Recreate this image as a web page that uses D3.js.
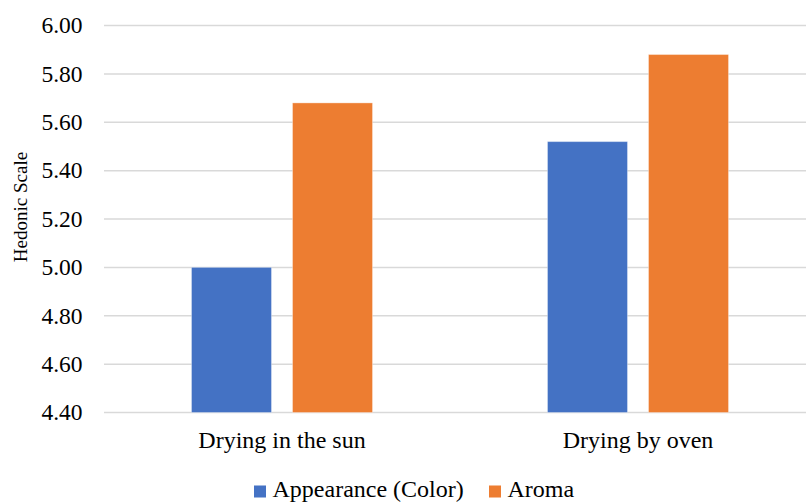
<!DOCTYPE html>
<html>
<head>
<meta charset="utf-8">
<script src="https://cdn.jsdelivr.net/npm/d3@7"></script>
<style>
  html, body { margin: 0; padding: 0; background: #fff; }
  text { font-family: "Liberation Serif", "Times New Roman", Times, serif; }
</style>
</head>
<body>
<div id="chart"></div>
<script>
// data
const categories = ["Drying in the sun", "Drying by oven"];
const seriesNames = ["Appearance (Color)", "Aroma"];
const appearance = [5.00, 5.52];
const aroma = [5.68, 5.88];
const yTicks = [4.40, 4.60, 4.80, 5.00, 5.20, 5.40, 5.60, 5.80, 6.00];
const colors = ["#4472c4", "#ed7d31"];

const width = 806;
const height = 502;
const margin = { top: 25.5, right: -10, bottom: 89.5, left: 104 };
const serif = "'Liberation Serif', 'Times New Roman', Times, serif";

const svg = d3.select("#chart").append("svg")
    .attr("width", width)
    .attr("height", height)
    .attr("font-family", serif);

const x = d3.scaleBand()
    .domain(categories)
    .range([margin.left, width - margin.right]);

const xInner = d3.scaleBand()
    .domain(seriesNames)
    .range([0, x.bandwidth()])
    .paddingInner(0.208)
    .paddingOuter(0.866);

const y = d3.scaleLinear()
    .domain([4.4, 6.0])
    .range([height - margin.bottom, margin.top]);

// gridlines
svg.append("g")
    .selectAll("line")
    .data(yTicks)
    .join("line")
    .attr("x1", margin.left)
    .attr("x2", width)
    .attr("y1", d => y(d))
    .attr("y2", d => y(d))
    .attr("stroke", "#d9d9d9")
    .attr("stroke-width", 1.5);

// y tick labels
svg.append("g")
    .selectAll("text")
    .data(yTicks)
    .join("text")
    .attr("x", 82.5)
    .attr("y", d => y(d))
    .attr("dy", "0.33em")
    .attr("text-anchor", "end")
    .attr("font-family", serif)
    .attr("font-size", 23.5)
    .attr("fill", "#000")
    .text(d => d3.format(".2f")(d));

// bars
const rows = categories.map((c, i) => ({ cat: c, values: [appearance[i], aroma[i]] }));

svg.append("g")
    .selectAll("g")
    .data(rows)
    .join("g")
    .attr("transform", d => `translate(${x(d.cat)},0)`)
    .selectAll("rect")
    .data(d => d.values.map((v, j) => ({ name: seriesNames[j], value: v, color: colors[j] })))
    .join("rect")
    .attr("x", d => xInner(d.name))
    .attr("width", xInner.bandwidth())
    .attr("y", d => y(d.value))
    .attr("height", d => y(4.4) - y(d.value))
    .attr("fill", d => d.color)
    .attr("stroke", "#fff")
    .attr("stroke-opacity", 0.35)
    .attr("stroke-width", 1);

// x labels
svg.append("g")
    .selectAll("text")
    .data(categories)
    .join("text")
    .attr("x", d => x(d) + x.bandwidth() / 2)
    .attr("y", 448)
    .attr("text-anchor", "middle")
    .attr("font-family", serif)
    .attr("font-size", 24)
    .attr("fill", "#000")
    .text(d => d);

// y axis title
svg.append("text")
    .attr("transform", "translate(27,207) rotate(-90)")
    .attr("text-anchor", "middle")
    .attr("font-family", serif)
    .attr("font-size", 19)
    .attr("fill", "#000")
    .text("Hedonic Scale");

// legend
const legendItems = [
    { name: seriesNames[0], color: colors[0], x: 254 },
    { name: seriesNames[1], color: colors[1], x: 489 }
];
const legend = svg.append("g")
    .selectAll("g")
    .data(legendItems)
    .join("g")
    .attr("transform", d => `translate(${d.x},0)`);

legend.append("rect")
    .attr("y", 485.5)
    .attr("width", 12)
    .attr("height", 12)
    .attr("fill", d => d.color);

legend.append("text")
    .attr("x", 18.5)
    .attr("y", 497)
    .attr("font-family", serif)
    .attr("font-size", 24)
    .attr("fill", "#000")
    .text(d => d.name);
</script>
</body>
</html>
